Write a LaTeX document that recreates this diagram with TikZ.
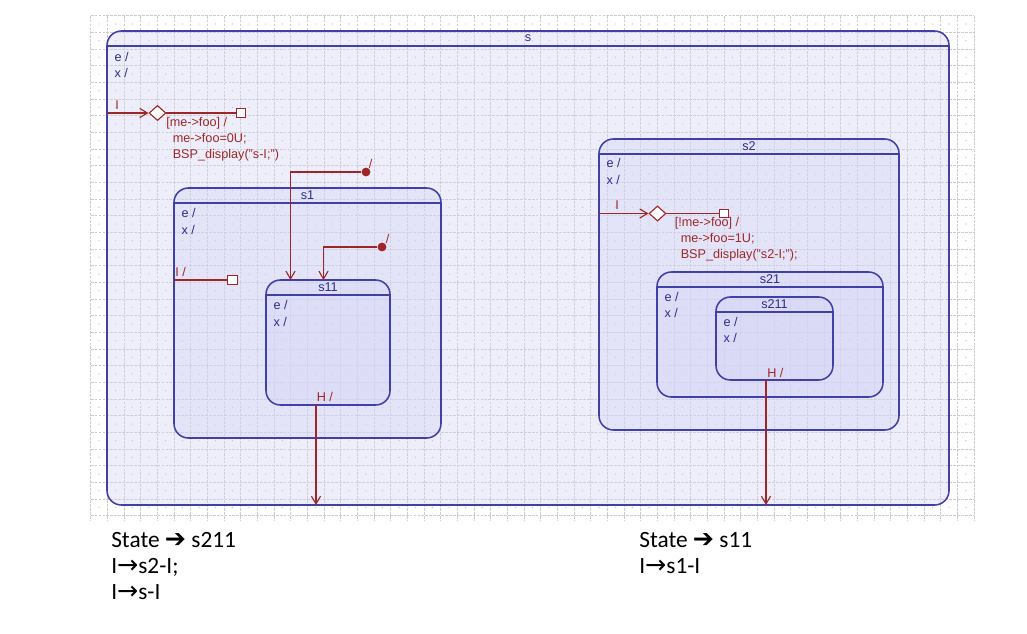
\documentclass[tikz,border=0pt]{standalone}
\usepackage{fontspec}
\setmainfont{Liberation Sans}
\newfontfamily\notefont{Carlito}
\newfontfamily\symfont{DejaVu Sans}
\usetikzlibrary{arrows.meta,shapes.geometric,fit,calc}

\definecolor{stline}{RGB}{64,64,168}
\definecolor{sttext}{RGB}{44,44,138}
\definecolor{stfill}{RGB}{212,212,246}
\definecolor{trred}{RGB}{158,38,38}
\definecolor{gridgray}{RGB}{204,204,204}

\begin{document}
\begin{tikzpicture}[x=0.025cm, y=-0.025cm,
    >={Straight Barb[length=5.5pt,width=6.5pt]},
    every node/.style={font=\fontsize{9}{11.4}\selectfont},
    gridline/.style={gridgray, line width=0.7pt, dash pattern=on 2pt off 0.8pt},
    griddot/.style={fill=gray!50},
    state/.style={draw=stline, line width=1.1pt, rounded corners=0.36cm,
        fill=stfill, fill opacity=0.4, inner sep=0pt},
    bar/.style={stline, line width=1.1pt},
    title/.style={text=sttext},
    act/.style={text=sttext, anchor=base west, inner sep=0pt},
    trans/.style={trred, line width=0.8pt},
    trtext/.style={text=trred, anchor=base west, inner sep=0pt},
    choice/.style={diamond, draw=trred, fill=white, line width=0.8pt,
        inner sep=0pt, minimum width=0.42cm, minimum height=0.38cm},
    endsq/.style={rectangle, draw=trred, fill=white, line width=0.8pt,
        inner sep=0pt, minimum size=0.23cm},
    dot/.style={circle, fill=trred, inner sep=0pt, minimum size=0.22cm},
    note/.style={font=\notefont\fontsize{16.6}{20}\selectfont, anchor=base west, inner sep=0pt}]
    \useasboundingbox (0,0) rectangle (1027,633);

    % grid
    \foreach \i in {0,...,53}
        \draw[gridline] ({90.7+16.67*\i},15.7) -- ({90.7+16.67*\i},520);
    \foreach \j in {0,...,30}
        \draw[gridline] (90.7,{15.7+16.67*\j}) -- (974,{15.7+16.67*\j});
    \foreach \i in {0,...,52}
        \foreach \j in {0,...,29}
            \fill[griddot] ({99+16.67*\i},{24+16.67*\j}) circle (0.5pt);

    % state s
    \node[state, fit={(107,31) (949,505)}] (s) {};
    \draw[bar] ($(s.north west)+(0,16)$) -- ($(s.north east)+(0,16)$);
    \node[title] (s-name) at ($(s.north)+(0,8)$) {s};
    \node[act] (s-e) at ($(s.north west)+(8,31)$) {e /};
    \node[act] (s-x) at ($(s.north west)+(8,47)$) {x /};

    % state s1
    \node[state, fit={(174,188) (441,438)}] (s1) {};
    \draw[bar] ($(s1.north west)+(0,16)$) -- ($(s1.north east)+(0,16)$);
    \node[title] (s1-name) at ($(s1.north)+(0,8)$) {s1};
    \node[act] (s1-e) at ($(s1.north west)+(8,30)$) {e /};
    \node[act] (s1-x) at ($(s1.north west)+(8,47)$) {x /};

    % state s11
    \node[state, fit={(266,280) (390,405)}] (s11) {};
    \draw[bar] ($(s11.north west)+(0,16)$) -- ($(s11.north east)+(0,16)$);
    \node[title] (s11-name) at ($(s11.north)+(0,8)$) {s11};
    \node[act] (s11-e) at ($(s11.north west)+(8,30)$) {e /};
    \node[act] (s11-x) at ($(s11.north west)+(8,47)$) {x /};

    % state s2
    \node[state, fit={(599,139) (899,430)}] (s2) {};
    \draw[bar] ($(s2.north west)+(0,16)$) -- ($(s2.north east)+(0,16)$);
    \node[title] (s2-name) at ($(s2.north)+(0,8)$) {s2};
    \node[act] (s2-e) at ($(s2.north west)+(8,29)$) {e /};
    \node[act] (s2-x) at ($(s2.north west)+(8,46)$) {x /};

    % state s21
    \node[state, fit={(657,272) (883,397)}] (s21) {};
    \draw[bar] ($(s21.north west)+(0,16)$) -- ($(s21.north east)+(0,16)$);
    \node[title] (s21-name) at ($(s21.north)+(0,8)$) {s21};
    \node[act] (s21-e) at ($(s21.north west)+(8,30)$) {e /};
    \node[act] (s21-x) at ($(s21.north west)+(8,46)$) {x /};

    % state s211
    \node[state, fit={(716,297) (833,380)}] (s211) {};
    \draw[bar] ($(s211.north west)+(0,16)$) -- ($(s211.north east)+(0,16)$);
    \node[title] (s211-name) at ($(s211.north)+(0,8)$) {s211};
    \node[act] (s211-e) at ($(s211.north west)+(8,30)$) {e /};
    \node[act] (s211-x) at ($(s211.north west)+(8,46)$) {x /};

    % initial transition of s
    \coordinate (s-in) at (107,113);
    \node[choice] (s-c) at (157.5,113) {};
    \node[endsq] (s-t) at (241,113) {};
    \draw[trans,->] (s-in) -- (s-c);
    \draw[trans] (s-c) -- (s-t);
    \node[trtext] (s-il) at (115,109) {I};
    \node[trtext] (s-g1) at (166,126.5) {[me->foo] /};
    \node[trtext] (s-g2) at (172.5,142.5) {me->foo=0U;};
    \node[trtext] (s-g3) at (172.5,158.5) {BSP\_display("s-I;")};

    % initial transitions into s11
    \node[dot] (d1) at (366,172) {};
    \coordinate (s11-in1) at (290.5,280);
    \draw[trans,->] (d1) -| (s11-in1);
    \node[trtext] (d1-l) at (368.5,168.5) {/};
    \node[dot] (d2) at (382,247) {};
    \coordinate (s11-in2) at (323.5,280);
    \draw[trans,->] (d2) -| (s11-in2);
    \node[trtext] (d2-l) at (385.5,243.5) {/};

    % internal transition of s1
    \coordinate (s1-in) at (174,280);
    \node[endsq] (s1-t) at (232.5,280) {};
    \draw[trans] (s1-in) -- (s1-t);
    \node[trtext] (s1-il) at (175,276.5) {I /};

    % history of s11
    \coordinate (s11-h) at (316,405);
    \coordinate (s-h1) at (316,505);
    \draw[trans,->] (s11-h) -- (s-h1);
    \node[trtext] (s11-hl) at (316.5,401.5) {H /};

    % initial transition of s2
    \coordinate (s2-in) at (599,213.5);
    \node[choice] (s2-c) at (657.5,213.5) {};
    \node[endsq, minimum size=0.21cm] (s2-t) at (724,213.5) {};
    \draw[trans,->] (s2-in) -- (s2-c);
    \draw[trans] (s2-c) -- (s2-t);
    \node[trtext] (s2-il) at (615,209.5) {I};
    \node[trtext] (s2-g1) at (674.5,226.5) {[!me->foo] /};
    \node[trtext] (s2-g2) at (680.5,242.5) {me->foo=1U;};
    \node[trtext] (s2-g3) at (680.5,258.5) {BSP\_display("s2-I;");};

    % history of s211
    \coordinate (s211-h) at (766,380);
    \coordinate (s-h2) at (766,505);
    \draw[trans,->] (s211-h) -- (s-h2);
    \node[trtext] (s211-hl) at (767,377) {H /};

    % notes
    \node[note] (n1) at (111,547) {State {\symfont\fontsize{18}{18}\selectfont ➔} s211};
    \node[note] (n2) at (111,573) {I{\symfont\fontsize{18}{18}\selectfont →}s2-I;};
    \node[note] (n3) at (111,599) {I{\symfont\fontsize{18}{18}\selectfont →}s-I};
    \node[note] (n4) at (639,547) {State {\symfont\fontsize{18}{18}\selectfont ➔} s11};
    \node[note] (n5) at (639,573) {I{\symfont\fontsize{18}{18}\selectfont →}s1-I};
\end{tikzpicture}
\end{document}
